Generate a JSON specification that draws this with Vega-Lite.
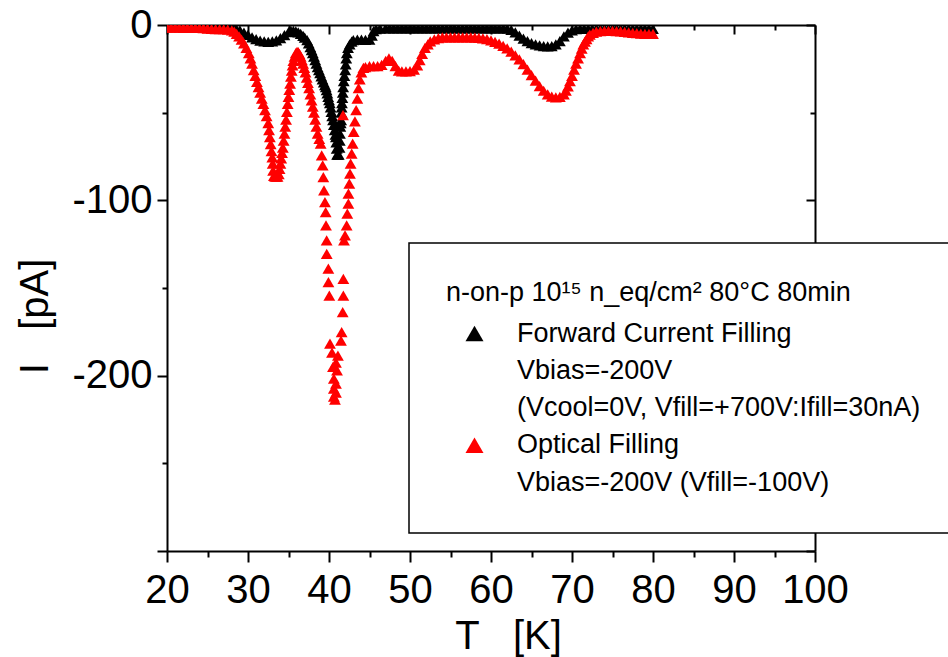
{
  "$schema": "https://vega.github.io/schema/vega-lite/v6.json",
  "width": 648,
  "height": 526,
  "autosize": {"type": "none"},
  "padding": {"left": 167, "top": 25, "right": 133, "bottom": 106},
  "background": "white",
  "config": {
    "view": {"stroke": null},
    "font": "Liberation Sans",
    "legend": {"strokeWidth": 1.5},
    "axis": {
      "grid": false,
      "domainColor": "black",
      "domainWidth": 2,
      "tickColor": "black",
      "tickWidth": 2,
      "labelFont": "Liberation Sans",
      "labelFontSize": 40,
      "labelColor": "black",
      "labelFlush": false,
      "labelOverlap": false,
      "labelBound": false,
      "titleFont": "Liberation Sans",
      "titleFontSize": 40,
      "titleFontWeight": "normal",
      "titleColor": "black"
    }
  },
  "data": {
    "values": [
      {"T": 20, "I": -1, "series": "Forward Current Filling"},
      {"T": 20.5, "I": -1, "series": "Forward Current Filling"},
      {"T": 21, "I": -1, "series": "Forward Current Filling"},
      {"T": 21.5, "I": -1, "series": "Forward Current Filling"},
      {"T": 22, "I": -1, "series": "Forward Current Filling"},
      {"T": 22.5, "I": -1, "series": "Forward Current Filling"},
      {"T": 23, "I": -1, "series": "Forward Current Filling"},
      {"T": 23.5, "I": -1, "series": "Forward Current Filling"},
      {"T": 24, "I": -1, "series": "Forward Current Filling"},
      {"T": 24.5, "I": -1, "series": "Forward Current Filling"},
      {"T": 25, "I": -1, "series": "Forward Current Filling"},
      {"T": 25.5, "I": -1, "series": "Forward Current Filling"},
      {"T": 26, "I": -1, "series": "Forward Current Filling"},
      {"T": 26.5, "I": -1, "series": "Forward Current Filling"},
      {"T": 27, "I": -1, "series": "Forward Current Filling"},
      {"T": 27.5, "I": -1.1, "series": "Forward Current Filling"},
      {"T": 28, "I": -1.2, "series": "Forward Current Filling"},
      {"T": 28.5, "I": -1.8, "series": "Forward Current Filling"},
      {"T": 29, "I": -3.0, "series": "Forward Current Filling"},
      {"T": 29.5, "I": -4.3, "series": "Forward Current Filling"},
      {"T": 30, "I": -5.7, "series": "Forward Current Filling"},
      {"T": 30.5, "I": -7.0, "series": "Forward Current Filling"},
      {"T": 31, "I": -8.1, "series": "Forward Current Filling"},
      {"T": 31.5, "I": -8.9, "series": "Forward Current Filling"},
      {"T": 32, "I": -9.4, "series": "Forward Current Filling"},
      {"T": 32.5, "I": -9.6, "series": "Forward Current Filling"},
      {"T": 33, "I": -9.4, "series": "Forward Current Filling"},
      {"T": 33.5, "I": -8.7, "series": "Forward Current Filling"},
      {"T": 34, "I": -7.5, "series": "Forward Current Filling"},
      {"T": 34.5, "I": -5.8, "series": "Forward Current Filling"},
      {"T": 35, "I": -4.0, "series": "Forward Current Filling"},
      {"T": 35.3, "I": -3.4, "series": "Forward Current Filling"},
      {"T": 35.6, "I": -3.3, "series": "Forward Current Filling"},
      {"T": 35.9, "I": -3.6, "series": "Forward Current Filling"},
      {"T": 36.2, "I": -4.2, "series": "Forward Current Filling"},
      {"T": 36.5, "I": -5.0, "series": "Forward Current Filling"},
      {"T": 36.8, "I": -6.2, "series": "Forward Current Filling"},
      {"T": 37.0, "I": -7.2, "series": "Forward Current Filling"},
      {"T": 37.3, "I": -8.6, "series": "Forward Current Filling"},
      {"T": 37.5, "I": -10.5, "series": "Forward Current Filling"},
      {"T": 37.7, "I": -12.6, "series": "Forward Current Filling"},
      {"T": 37.85, "I": -14.3, "series": "Forward Current Filling"},
      {"T": 38.0, "I": -16, "series": "Forward Current Filling"},
      {"T": 38.15, "I": -18, "series": "Forward Current Filling"},
      {"T": 38.3, "I": -20, "series": "Forward Current Filling"},
      {"T": 38.45, "I": -22, "series": "Forward Current Filling"},
      {"T": 38.6, "I": -24, "series": "Forward Current Filling"},
      {"T": 38.75, "I": -25.7, "series": "Forward Current Filling"},
      {"T": 38.9, "I": -27.5, "series": "Forward Current Filling"},
      {"T": 39.05, "I": -29.3, "series": "Forward Current Filling"},
      {"T": 39.2, "I": -31, "series": "Forward Current Filling"},
      {"T": 39.35, "I": -32.7, "series": "Forward Current Filling"},
      {"T": 39.5, "I": -34.3, "series": "Forward Current Filling"},
      {"T": 39.6, "I": -35.4, "series": "Forward Current Filling"},
      {"T": 39.7, "I": -37.2, "series": "Forward Current Filling"},
      {"T": 39.8, "I": -39, "series": "Forward Current Filling"},
      {"T": 39.9, "I": -41, "series": "Forward Current Filling"},
      {"T": 40.0, "I": -42.8, "series": "Forward Current Filling"},
      {"T": 40.1, "I": -44.6, "series": "Forward Current Filling"},
      {"T": 40.2, "I": -47, "series": "Forward Current Filling"},
      {"T": 40.3, "I": -49.5, "series": "Forward Current Filling"},
      {"T": 40.4, "I": -52, "series": "Forward Current Filling"},
      {"T": 40.5, "I": -54.3, "series": "Forward Current Filling"},
      {"T": 40.6, "I": -57, "series": "Forward Current Filling"},
      {"T": 40.7, "I": -60, "series": "Forward Current Filling"},
      {"T": 40.8, "I": -62.5, "series": "Forward Current Filling"},
      {"T": 40.85, "I": -64, "series": "Forward Current Filling"},
      {"T": 40.9, "I": -67, "series": "Forward Current Filling"},
      {"T": 40.95, "I": -70.5, "series": "Forward Current Filling"},
      {"T": 41.0, "I": -74, "series": "Forward Current Filling"},
      {"T": 41.1, "I": -74, "series": "Forward Current Filling"},
      {"T": 41.2, "I": -74, "series": "Forward Current Filling"},
      {"T": 41.3, "I": -70, "series": "Forward Current Filling"},
      {"T": 41.33, "I": -66, "series": "Forward Current Filling"},
      {"T": 41.35, "I": -62, "series": "Forward Current Filling"},
      {"T": 41.4, "I": -58, "series": "Forward Current Filling"},
      {"T": 41.45, "I": -56, "series": "Forward Current Filling"},
      {"T": 41.5, "I": -54.3, "series": "Forward Current Filling"},
      {"T": 41.53, "I": -50, "series": "Forward Current Filling"},
      {"T": 41.56, "I": -47, "series": "Forward Current Filling"},
      {"T": 41.6, "I": -44.6, "series": "Forward Current Filling"},
      {"T": 41.65, "I": -41.5, "series": "Forward Current Filling"},
      {"T": 41.7, "I": -38.5, "series": "Forward Current Filling"},
      {"T": 41.75, "I": -35.4, "series": "Forward Current Filling"},
      {"T": 41.82, "I": -32, "series": "Forward Current Filling"},
      {"T": 41.9, "I": -29, "series": "Forward Current Filling"},
      {"T": 42.0, "I": -25.7, "series": "Forward Current Filling"},
      {"T": 42.07, "I": -22.5, "series": "Forward Current Filling"},
      {"T": 42.13, "I": -19, "series": "Forward Current Filling"},
      {"T": 42.2, "I": -16, "series": "Forward Current Filling"},
      {"T": 42.35, "I": -13, "series": "Forward Current Filling"},
      {"T": 42.55, "I": -11, "series": "Forward Current Filling"},
      {"T": 42.8, "I": -9.5, "series": "Forward Current Filling"},
      {"T": 43.0, "I": -8.6, "series": "Forward Current Filling"},
      {"T": 43.5, "I": -8.4, "series": "Forward Current Filling"},
      {"T": 44.0, "I": -8.4, "series": "Forward Current Filling"},
      {"T": 44.5, "I": -8.5, "series": "Forward Current Filling"},
      {"T": 45.0, "I": -8.3, "series": "Forward Current Filling"},
      {"T": 45.3, "I": -6, "series": "Forward Current Filling"},
      {"T": 45.5, "I": -3.5, "series": "Forward Current Filling"},
      {"T": 45.8, "I": -2.4, "series": "Forward Current Filling"},
      {"T": 46.3, "I": -2.0, "series": "Forward Current Filling"},
      {"T": 47, "I": -1.9, "series": "Forward Current Filling"},
      {"T": 47.5, "I": -1.9, "series": "Forward Current Filling"},
      {"T": 48, "I": -1.9, "series": "Forward Current Filling"},
      {"T": 48.5, "I": -1.9, "series": "Forward Current Filling"},
      {"T": 49, "I": -1.9, "series": "Forward Current Filling"},
      {"T": 49.5, "I": -1.9, "series": "Forward Current Filling"},
      {"T": 50, "I": -1.9, "series": "Forward Current Filling"},
      {"T": 50.5, "I": -1.9, "series": "Forward Current Filling"},
      {"T": 51, "I": -1.9, "series": "Forward Current Filling"},
      {"T": 51.5, "I": -1.9, "series": "Forward Current Filling"},
      {"T": 52, "I": -1.9, "series": "Forward Current Filling"},
      {"T": 52.5, "I": -1.9, "series": "Forward Current Filling"},
      {"T": 53, "I": -1.9, "series": "Forward Current Filling"},
      {"T": 53.5, "I": -1.9, "series": "Forward Current Filling"},
      {"T": 54, "I": -1.9, "series": "Forward Current Filling"},
      {"T": 54.5, "I": -1.9, "series": "Forward Current Filling"},
      {"T": 55, "I": -1.9, "series": "Forward Current Filling"},
      {"T": 55.5, "I": -1.9, "series": "Forward Current Filling"},
      {"T": 56, "I": -1.9, "series": "Forward Current Filling"},
      {"T": 56.5, "I": -1.9, "series": "Forward Current Filling"},
      {"T": 57, "I": -1.9, "series": "Forward Current Filling"},
      {"T": 57.5, "I": -1.9, "series": "Forward Current Filling"},
      {"T": 58, "I": -1.9, "series": "Forward Current Filling"},
      {"T": 58.5, "I": -1.9, "series": "Forward Current Filling"},
      {"T": 59, "I": -1.9, "series": "Forward Current Filling"},
      {"T": 59.5, "I": -1.9, "series": "Forward Current Filling"},
      {"T": 60, "I": -1.9, "series": "Forward Current Filling"},
      {"T": 60.5, "I": -1.9, "series": "Forward Current Filling"},
      {"T": 61, "I": -1.9, "series": "Forward Current Filling"},
      {"T": 61.5, "I": -1.9, "series": "Forward Current Filling"},
      {"T": 62.0, "I": -2.0, "series": "Forward Current Filling"},
      {"T": 62.5, "I": -2.8, "series": "Forward Current Filling"},
      {"T": 63.0, "I": -4.2, "series": "Forward Current Filling"},
      {"T": 63.5, "I": -6.0, "series": "Forward Current Filling"},
      {"T": 64.0, "I": -7.8, "series": "Forward Current Filling"},
      {"T": 64.5, "I": -9.2, "series": "Forward Current Filling"},
      {"T": 65.0, "I": -10.3, "series": "Forward Current Filling"},
      {"T": 65.5, "I": -11.1, "series": "Forward Current Filling"},
      {"T": 66.0, "I": -11.6, "series": "Forward Current Filling"},
      {"T": 66.5, "I": -12.0, "series": "Forward Current Filling"},
      {"T": 67.0, "I": -12.2, "series": "Forward Current Filling"},
      {"T": 67.5, "I": -12.0, "series": "Forward Current Filling"},
      {"T": 68.0, "I": -11.0, "series": "Forward Current Filling"},
      {"T": 68.5, "I": -9.2, "series": "Forward Current Filling"},
      {"T": 69.0, "I": -6.5, "series": "Forward Current Filling"},
      {"T": 69.5, "I": -4.3, "series": "Forward Current Filling"},
      {"T": 70.0, "I": -3.0, "series": "Forward Current Filling"},
      {"T": 70.5, "I": -2.4, "series": "Forward Current Filling"},
      {"T": 71, "I": -2.2, "series": "Forward Current Filling"},
      {"T": 71.5, "I": -2.2, "series": "Forward Current Filling"},
      {"T": 72, "I": -2.2, "series": "Forward Current Filling"},
      {"T": 72.5, "I": -2.2, "series": "Forward Current Filling"},
      {"T": 73, "I": -2.2, "series": "Forward Current Filling"},
      {"T": 73.5, "I": -2.2, "series": "Forward Current Filling"},
      {"T": 74, "I": -2.2, "series": "Forward Current Filling"},
      {"T": 74.5, "I": -2.2, "series": "Forward Current Filling"},
      {"T": 75, "I": -2.2, "series": "Forward Current Filling"},
      {"T": 75.5, "I": -2.2, "series": "Forward Current Filling"},
      {"T": 76, "I": -2.2, "series": "Forward Current Filling"},
      {"T": 76.5, "I": -2.2, "series": "Forward Current Filling"},
      {"T": 77, "I": -2.2, "series": "Forward Current Filling"},
      {"T": 77.5, "I": -2.2, "series": "Forward Current Filling"},
      {"T": 78, "I": -2.2, "series": "Forward Current Filling"},
      {"T": 78.5, "I": -2.2, "series": "Forward Current Filling"},
      {"T": 79, "I": -2.2, "series": "Forward Current Filling"},
      {"T": 79.5, "I": -2.2, "series": "Forward Current Filling"},
      {"T": 80, "I": -2.2, "series": "Forward Current Filling"},

      {"T": 20, "I": -1.5, "series": "Optical Filling"},
      {"T": 20.5, "I": -1.5, "series": "Optical Filling"},
      {"T": 21, "I": -1.5, "series": "Optical Filling"},
      {"T": 21.5, "I": -1.5, "series": "Optical Filling"},
      {"T": 22, "I": -1.6, "series": "Optical Filling"},
      {"T": 22.5, "I": -1.6, "series": "Optical Filling"},
      {"T": 23, "I": -1.6, "series": "Optical Filling"},
      {"T": 23.5, "I": -1.7, "series": "Optical Filling"},
      {"T": 24, "I": -1.7, "series": "Optical Filling"},
      {"T": 24.5, "I": -1.8, "series": "Optical Filling"},
      {"T": 25, "I": -2.0, "series": "Optical Filling"},
      {"T": 25.5, "I": -2.2, "series": "Optical Filling"},
      {"T": 26, "I": -2.3, "series": "Optical Filling"},
      {"T": 26.5, "I": -2.3, "series": "Optical Filling"},
      {"T": 27, "I": -2.4, "series": "Optical Filling"},
      {"T": 27.5, "I": -2.6, "series": "Optical Filling"},
      {"T": 28, "I": -3.0, "series": "Optical Filling"},
      {"T": 28.3, "I": -3.8, "series": "Optical Filling"},
      {"T": 28.6, "I": -5, "series": "Optical Filling"},
      {"T": 28.9, "I": -6.5, "series": "Optical Filling"},
      {"T": 29.2, "I": -8.3, "series": "Optical Filling"},
      {"T": 29.5, "I": -10.5, "series": "Optical Filling"},
      {"T": 29.8, "I": -13, "series": "Optical Filling"},
      {"T": 30.1, "I": -16, "series": "Optical Filling"},
      {"T": 30.3, "I": -19, "series": "Optical Filling"},
      {"T": 30.5, "I": -22, "series": "Optical Filling"},
      {"T": 30.7, "I": -25.7, "series": "Optical Filling"},
      {"T": 30.9, "I": -29, "series": "Optical Filling"},
      {"T": 31.1, "I": -32.5, "series": "Optical Filling"},
      {"T": 31.3, "I": -35.4, "series": "Optical Filling"},
      {"T": 31.5, "I": -38.5, "series": "Optical Filling"},
      {"T": 31.7, "I": -42, "series": "Optical Filling"},
      {"T": 31.9, "I": -45, "series": "Optical Filling"},
      {"T": 32.1, "I": -48.5, "series": "Optical Filling"},
      {"T": 32.3, "I": -52, "series": "Optical Filling"},
      {"T": 32.5, "I": -56, "series": "Optical Filling"},
      {"T": 32.6, "I": -60, "series": "Optical Filling"},
      {"T": 32.7, "I": -64, "series": "Optical Filling"},
      {"T": 32.8, "I": -68, "series": "Optical Filling"},
      {"T": 32.9, "I": -72, "series": "Optical Filling"},
      {"T": 33.0, "I": -75.5, "series": "Optical Filling"},
      {"T": 33.05, "I": -79, "series": "Optical Filling"},
      {"T": 33.1, "I": -83, "series": "Optical Filling"},
      {"T": 33.2, "I": -86, "series": "Optical Filling"},
      {"T": 33.35, "I": -86.5, "series": "Optical Filling"},
      {"T": 33.5, "I": -86.5, "series": "Optical Filling"},
      {"T": 33.65, "I": -86.5, "series": "Optical Filling"},
      {"T": 33.8, "I": -85, "series": "Optical Filling"},
      {"T": 33.9, "I": -82, "series": "Optical Filling"},
      {"T": 34.0, "I": -79, "series": "Optical Filling"},
      {"T": 34.1, "I": -76, "series": "Optical Filling"},
      {"T": 34.2, "I": -73, "series": "Optical Filling"},
      {"T": 34.3, "I": -70, "series": "Optical Filling"},
      {"T": 34.4, "I": -66, "series": "Optical Filling"},
      {"T": 34.5, "I": -62, "series": "Optical Filling"},
      {"T": 34.6, "I": -58, "series": "Optical Filling"},
      {"T": 34.7, "I": -54, "series": "Optical Filling"},
      {"T": 34.8, "I": -49.5, "series": "Optical Filling"},
      {"T": 34.9, "I": -45, "series": "Optical Filling"},
      {"T": 35.0, "I": -41, "series": "Optical Filling"},
      {"T": 35.1, "I": -37, "series": "Optical Filling"},
      {"T": 35.2, "I": -33.5, "series": "Optical Filling"},
      {"T": 35.3, "I": -29.5, "series": "Optical Filling"},
      {"T": 35.4, "I": -26, "series": "Optical Filling"},
      {"T": 35.5, "I": -23, "series": "Optical Filling"},
      {"T": 35.6, "I": -20.5, "series": "Optical Filling"},
      {"T": 35.75, "I": -18, "series": "Optical Filling"},
      {"T": 35.9, "I": -16, "series": "Optical Filling"},
      {"T": 36.05, "I": -15.3, "series": "Optical Filling"},
      {"T": 36.2, "I": -15.5, "series": "Optical Filling"},
      {"T": 36.35, "I": -16.5, "series": "Optical Filling"},
      {"T": 36.5, "I": -18, "series": "Optical Filling"},
      {"T": 36.65, "I": -20, "series": "Optical Filling"},
      {"T": 36.8, "I": -22, "series": "Optical Filling"},
      {"T": 36.95, "I": -24.5, "series": "Optical Filling"},
      {"T": 37.1, "I": -27, "series": "Optical Filling"},
      {"T": 37.25, "I": -30, "series": "Optical Filling"},
      {"T": 37.4, "I": -33, "series": "Optical Filling"},
      {"T": 37.55, "I": -36, "series": "Optical Filling"},
      {"T": 37.7, "I": -39.5, "series": "Optical Filling"},
      {"T": 37.85, "I": -43, "series": "Optical Filling"},
      {"T": 38.0, "I": -46.5, "series": "Optical Filling"},
      {"T": 38.15, "I": -50, "series": "Optical Filling"},
      {"T": 38.3, "I": -54, "series": "Optical Filling"},
      {"T": 38.45, "I": -58, "series": "Optical Filling"},
      {"T": 38.6, "I": -62, "series": "Optical Filling"},
      {"T": 38.8, "I": -65, "series": "Optical Filling"},
      {"T": 38.97, "I": -67.6, "series": "Optical Filling"},
      {"T": 39.1, "I": -74.3, "series": "Optical Filling"},
      {"T": 39.22, "I": -80, "series": "Optical Filling"},
      {"T": 39.3, "I": -86.7, "series": "Optical Filling"},
      {"T": 39.38, "I": -94.3, "series": "Optical Filling"},
      {"T": 39.5, "I": -101, "series": "Optical Filling"},
      {"T": 39.59, "I": -106.7, "series": "Optical Filling"},
      {"T": 39.63, "I": -114.3, "series": "Optical Filling"},
      {"T": 39.71, "I": -122.9, "series": "Optical Filling"},
      {"T": 39.72, "I": -130.5, "series": "Optical Filling"},
      {"T": 39.92, "I": -139, "series": "Optical Filling"},
      {"T": 39.93, "I": -146.7, "series": "Optical Filling"},
      {"T": 40.04, "I": -154.3, "series": "Optical Filling"},
      {"T": 40.12, "I": -181.7, "series": "Optical Filling"},
      {"T": 40.37, "I": -186.9, "series": "Optical Filling"},
      {"T": 40.49, "I": -195, "series": "Optical Filling"},
      {"T": 40.6, "I": -201.7, "series": "Optical Filling"},
      {"T": 40.6, "I": -207.4, "series": "Optical Filling"},
      {"T": 40.6, "I": -212, "series": "Optical Filling"},
      {"T": 40.74, "I": -213.7, "series": "Optical Filling"},
      {"T": 40.86, "I": -192.6, "series": "Optical Filling"},
      {"T": 40.86, "I": -204.6, "series": "Optical Filling"},
      {"T": 40.86, "I": -209.7, "series": "Optical Filling"},
      {"T": 40.99, "I": -197, "series": "Optical Filling"},
      {"T": 41.1, "I": -188.6, "series": "Optical Filling"},
      {"T": 41.48, "I": -180, "series": "Optical Filling"},
      {"T": 41.56, "I": -175.2, "series": "Optical Filling"},
      {"T": 41.69, "I": -163.8, "series": "Optical Filling"},
      {"T": 41.73, "I": -51.4, "series": "Optical Filling"},
      {"T": 41.77, "I": -154.3, "series": "Optical Filling"},
      {"T": 41.77, "I": -144.8, "series": "Optical Filling"},
      {"T": 41.85, "I": -122.9, "series": "Optical Filling"},
      {"T": 41.98, "I": -120, "series": "Optical Filling"},
      {"T": 42.18, "I": -114.3, "series": "Optical Filling"},
      {"T": 42.26, "I": -107.6, "series": "Optical Filling"},
      {"T": 42.39, "I": -101.9, "series": "Optical Filling"},
      {"T": 42.4, "I": -96.2, "series": "Optical Filling"},
      {"T": 42.51, "I": -90.5, "series": "Optical Filling"},
      {"T": 42.59, "I": -84.8, "series": "Optical Filling"},
      {"T": 42.67, "I": -79, "series": "Optical Filling"},
      {"T": 42.8, "I": -73.3, "series": "Optical Filling"},
      {"T": 42.92, "I": -67.6, "series": "Optical Filling"},
      {"T": 43.05, "I": -61, "series": "Optical Filling"},
      {"T": 43.2, "I": -55, "series": "Optical Filling"},
      {"T": 43.35, "I": -48.5, "series": "Optical Filling"},
      {"T": 43.5, "I": -42, "series": "Optical Filling"},
      {"T": 43.65, "I": -36, "series": "Optical Filling"},
      {"T": 43.8, "I": -31, "series": "Optical Filling"},
      {"T": 44.0, "I": -27, "series": "Optical Filling"},
      {"T": 44.25, "I": -24.5, "series": "Optical Filling"},
      {"T": 44.5, "I": -24, "series": "Optical Filling"},
      {"T": 45.0, "I": -23.5, "series": "Optical Filling"},
      {"T": 45.5, "I": -23.5, "series": "Optical Filling"},
      {"T": 46.0, "I": -23.5, "series": "Optical Filling"},
      {"T": 46.5, "I": -22.8, "series": "Optical Filling"},
      {"T": 47.0, "I": -20.5, "series": "Optical Filling"},
      {"T": 47.4, "I": -19, "series": "Optical Filling"},
      {"T": 47.8, "I": -20.5, "series": "Optical Filling"},
      {"T": 48.2, "I": -23.5, "series": "Optical Filling"},
      {"T": 48.6, "I": -26, "series": "Optical Filling"},
      {"T": 49.0, "I": -26.5, "series": "Optical Filling"},
      {"T": 49.5, "I": -26.5, "series": "Optical Filling"},
      {"T": 50.0, "I": -26.3, "series": "Optical Filling"},
      {"T": 50.5, "I": -25.5, "series": "Optical Filling"},
      {"T": 50.9, "I": -23, "series": "Optical Filling"},
      {"T": 51.2, "I": -20, "series": "Optical Filling"},
      {"T": 51.5, "I": -16.5, "series": "Optical Filling"},
      {"T": 51.85, "I": -13, "series": "Optical Filling"},
      {"T": 52.2, "I": -11, "series": "Optical Filling"},
      {"T": 52.5, "I": -9.4, "series": "Optical Filling"},
      {"T": 53.0, "I": -8.2, "series": "Optical Filling"},
      {"T": 53.5, "I": -7.5, "series": "Optical Filling"},
      {"T": 54.0, "I": -7.1, "series": "Optical Filling"},
      {"T": 54.5, "I": -7.0, "series": "Optical Filling"},
      {"T": 55.0, "I": -7.0, "series": "Optical Filling"},
      {"T": 55.5, "I": -7.0, "series": "Optical Filling"},
      {"T": 56.0, "I": -7.0, "series": "Optical Filling"},
      {"T": 56.5, "I": -7.0, "series": "Optical Filling"},
      {"T": 57.0, "I": -7.1, "series": "Optical Filling"},
      {"T": 57.5, "I": -7.1, "series": "Optical Filling"},
      {"T": 58.0, "I": -7.2, "series": "Optical Filling"},
      {"T": 58.5, "I": -7.3, "series": "Optical Filling"},
      {"T": 59.0, "I": -7.6, "series": "Optical Filling"},
      {"T": 59.5, "I": -8.1, "series": "Optical Filling"},
      {"T": 60.0, "I": -8.8, "series": "Optical Filling"},
      {"T": 60.5, "I": -9.6, "series": "Optical Filling"},
      {"T": 61.0, "I": -10.6, "series": "Optical Filling"},
      {"T": 61.5, "I": -11.9, "series": "Optical Filling"},
      {"T": 62.0, "I": -13.4, "series": "Optical Filling"},
      {"T": 62.5, "I": -15.2, "series": "Optical Filling"},
      {"T": 63.0, "I": -17.3, "series": "Optical Filling"},
      {"T": 63.5, "I": -19.6, "series": "Optical Filling"},
      {"T": 64.0, "I": -22.3, "series": "Optical Filling"},
      {"T": 64.5, "I": -25.5, "series": "Optical Filling"},
      {"T": 65.0, "I": -28.6, "series": "Optical Filling"},
      {"T": 65.5, "I": -31.7, "series": "Optical Filling"},
      {"T": 66.0, "I": -34.8, "series": "Optical Filling"},
      {"T": 66.5, "I": -37.5, "series": "Optical Filling"},
      {"T": 67.0, "I": -39.5, "series": "Optical Filling"},
      {"T": 67.5, "I": -40.8, "series": "Optical Filling"},
      {"T": 68.0, "I": -41.3, "series": "Optical Filling"},
      {"T": 68.5, "I": -41, "series": "Optical Filling"},
      {"T": 69.0, "I": -39.5, "series": "Optical Filling"},
      {"T": 69.25, "I": -37.5, "series": "Optical Filling"},
      {"T": 69.5, "I": -35, "series": "Optical Filling"},
      {"T": 69.75, "I": -32, "series": "Optical Filling"},
      {"T": 70.0, "I": -29, "series": "Optical Filling"},
      {"T": 70.25, "I": -25.5, "series": "Optical Filling"},
      {"T": 70.5, "I": -22, "series": "Optical Filling"},
      {"T": 70.75, "I": -19, "series": "Optical Filling"},
      {"T": 71.0, "I": -16, "series": "Optical Filling"},
      {"T": 71.2, "I": -13.5, "series": "Optical Filling"},
      {"T": 71.4, "I": -11, "series": "Optical Filling"},
      {"T": 71.6, "I": -9.5, "series": "Optical Filling"},
      {"T": 71.8, "I": -8, "series": "Optical Filling"},
      {"T": 72.0, "I": -6.5, "series": "Optical Filling"},
      {"T": 72.2, "I": -5.5, "series": "Optical Filling"},
      {"T": 72.6, "I": -4.5, "series": "Optical Filling"},
      {"T": 73.0, "I": -3.8, "series": "Optical Filling"},
      {"T": 73.5, "I": -3.5, "series": "Optical Filling"},
      {"T": 74.0, "I": -3.4, "series": "Optical Filling"},
      {"T": 74.5, "I": -3.4, "series": "Optical Filling"},
      {"T": 75.0, "I": -3.4, "series": "Optical Filling"},
      {"T": 75.5, "I": -3.5, "series": "Optical Filling"},
      {"T": 76.0, "I": -3.6, "series": "Optical Filling"},
      {"T": 76.5, "I": -3.9, "series": "Optical Filling"},
      {"T": 77.0, "I": -4.2, "series": "Optical Filling"},
      {"T": 77.5, "I": -4.5, "series": "Optical Filling"},
      {"T": 78.0, "I": -4.7, "series": "Optical Filling"},
      {"T": 78.5, "I": -4.9, "series": "Optical Filling"},
      {"T": 79.0, "I": -5.0, "series": "Optical Filling"},
      {"T": 79.5, "I": -5.1, "series": "Optical Filling"},
      {"T": 80.0, "I": -5.1, "series": "Optical Filling"}
    ]
  },
  "layer": [
    {
      "mark": {"type": "point", "shape": "triangle-up", "filled": true, "size": 140, "opacity": 1, "strokeWidth": 0, "clip": true},
      "encoding": {
        "x": {
          "field": "T", "type": "quantitative",
          "scale": {"domain": [20, 100], "nice": false, "zero": false},
          "axis": {
            "orient": "bottom",
            "values": [20, 25, 30, 35, 40, 45, 50, 55, 60, 65, 70, 75, 80, 85, 90, 95, 100],
            "labelExpr": "datum.value % 10 === 0 ? datum.label : ''",
            "tickSize": {"condition": {"test": "datum.value % 10 === 0", "value": 11}, "value": 6},
            "labelPadding": 8,
            "title": "T\u00a0\u00a0\u00a0[K]",
            "titleX": 341,
            "titleY": 97,
            "titleAlign": "center",
            "titleBaseline": "alphabetic"
          }
        },
        "y": {
          "field": "I", "type": "quantitative",
          "scale": {"domain": [-300, 0], "nice": false, "zero": false},
          "axis": {
            "orient": "left",
            "values": [-300, -250, -200, -150, -100, -50, 0],
            "labelExpr": "datum.value % 100 === 0 && datum.value > -300 ? (datum.value === 0 ? '0' : '-' + abs(datum.value)) : ''",
            "tickSize": {"condition": {"test": "datum.value % 100 === 0", "value": 10}, "value": 5},
            "labelPadding": 5,
            "title": "I\u00a0\u00a0\u00a0[pA]",
            "titleX": -120,
            "titleY": 291,
            "titleAngle": -90,
            "titleAlign": "center",
            "titleBaseline": "alphabetic"
          }
        },
        "color": {
          "field": "series", "type": "nominal",
          "scale": {
            "domain": ["Forward Current Filling", "Vbias=-200V", "(Vcool=0V, Vfill=+700V:Ifill=30nA)", "Optical Filling", "Vbias=-200V (Vfill=-100V)"],
            "range": ["#000000", "rgba(0,0,0,0)", "rgba(0,0,0,0)", "#ff0000", "rgba(0,0,0,0)"]
          },
          "legend": {
            "orient": "none",
            "legendX": 242,
            "legendY": 218,
            "title": "n-on-p 10¹⁵ n_eq/cm² 80°C 80min",
            "titleFont": "Liberation Sans",
            "titleFontSize": 27,
            "titleFontWeight": "normal",
            "titleColor": "black",
            "titlePadding": 13,
            "titleLimit": 800,
            "labelFont": "Liberation Sans",
            "labelFontSize": 27,
            "labelColor": "black",
            "labelLimit": 800,
            "symbolType": "triangle-up",
            "symbolSize": 324,
            "symbolOffset": 15,
            "symbolStrokeWidth": 0,
            "labelOffset": 29,
            "rowPadding": 9.25,
            "padding": 37,
            "fillColor": "white",
            "strokeColor": "black",
            "cornerRadius": 0
          }
        }
      }
    },
    {
      "mark": {"type": "point", "opacity": 0},
      "encoding": {
        "x": {
          "field": "T", "type": "quantitative",
          "axis": {
            "orient": "top",
            "values": [20, 25, 30, 35, 40, 45, 50, 55, 60, 65, 70, 75, 80, 85, 90, 95, 100],
            "labels": false,
            "title": null,
            "tickSize": {"condition": {"test": "datum.value % 10 === 0", "value": -9}, "value": -5}
          }
        },
        "y": {
          "field": "I", "type": "quantitative",
          "axis": {
            "orient": "right",
            "values": [-300, -250, -200, -150, -100, -50, 0],
            "labels": false,
            "title": null,
            "tickSize": {"condition": {"test": "datum.value % 100 === 0", "value": -9}, "value": -5}
          }
        }
      }
    }
  ],
  "resolve": {"axis": {"x": "independent", "y": "independent"}}
}
